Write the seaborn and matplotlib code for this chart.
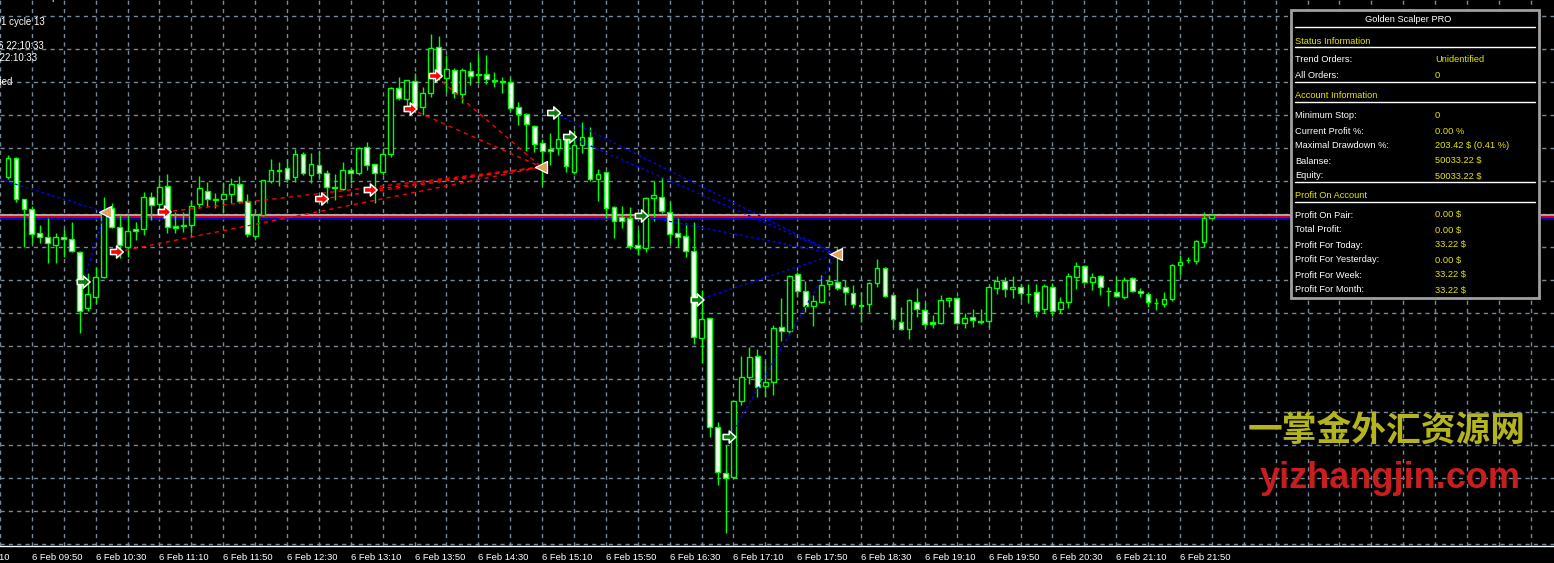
import numpy as np
import matplotlib.pyplot as plt
import matplotlib as mpl
import matplotlib.transforms as mtransforms
import pandas as pd
import seaborn as sns
from matplotlib.path import Path
from matplotlib.patches import Rectangle

# 5 minute bars, 6 Feb, 09:35 .. 22:10
bar_open = [
    1333.23, 1333.42, 1333.01, 1332.91, 1332.67, 1332.63, 1332.55, 1332.63, 1332.61, 1332.48,
    1331.92, 1332.03, 1332.23, 1332.92, 1332.73, 1332.53, 1332.71, 1332.71, 1333.03, 1332.96,
    1333.14, 1332.74, 1332.75, 1332.75, 1332.96, 1333.09, 1333.01, 1333.01, 1333.06, 1333.16,
    1332.99, 1332.64, 1332.85, 1333.19, 1333.30, 1333.32, 1333.23, 1333.46, 1333.25, 1333.35,
    1333.27, 1333.13, 1333.11, 1333.30, 1333.27, 1333.53, 1333.36, 1333.28, 1333.46, 1334.12,
    1334.01, 1334.19, 1333.93, 1334.07, 1334.53, 1334.22, 1334.30, 1334.06, 1334.29, 1334.26,
    1334.26, 1334.20, 1334.19, 1334.18, 1333.93, 1333.86, 1333.74, 1333.57, 1333.51, 1333.52,
    1333.62, 1333.28, 1333.55, 1333.63, 1333.21, 1333.28, 1332.93, 1332.83, 1332.82, 1332.55,
    1332.52, 1333.02, 1333.03, 1332.88, 1332.67, 1332.64, 1332.49, 1331.62, 1331.82, 1330.73,
    1330.27, 1330.23, 1330.99, 1331.23, 1331.44, 1331.14, 1331.18, 1331.73, 1331.69, 1332.26,
    1332.09, 1331.94, 1331.98, 1332.16, 1332.18, 1332.13, 1332.07, 1331.95, 1331.96, 1332.17,
    1332.32, 1332.05, 1331.78, 1331.71, 1331.98, 1331.90, 1331.78, 1331.77, 1332.00, 1332.02,
    1331.77, 1331.83, 1331.79, 1331.79, 1332.12, 1332.19, 1332.11, 1332.13, 1332.06, 1332.08,
    1331.91, 1332.13, 1331.91, 1331.98, 1332.23, 1332.34, 1332.18, 1332.24, 1332.09, 1332.08,
    1332.03, 1332.22, 1332.09, 1332.06, 1331.97, 1331.96, 1332.01, 1332.35, 1332.40, 1332.39,
    1332.58, 1332.82]
bar_high = [
    1333.45, 1333.43, 1333.01, 1332.94, 1332.75, 1332.82, 1332.67, 1332.71, 1332.78, 1332.49,
    1332.27, 1332.33, 1333.03, 1332.97, 1332.85, 1332.85, 1332.78, 1333.08, 1333.08, 1333.21,
    1333.26, 1332.88, 1332.88, 1333.00, 1333.24, 1333.18, 1333.07, 1333.18, 1333.22, 1333.24,
    1333.06, 1332.90, 1333.20, 1333.41, 1333.38, 1333.41, 1333.51, 1333.48, 1333.47, 1333.49,
    1333.30, 1333.26, 1333.38, 1333.32, 1333.53, 1333.58, 1333.36, 1333.52, 1334.13, 1334.23,
    1334.20, 1334.27, 1334.13, 1334.66, 1334.64, 1334.45, 1334.32, 1334.32, 1334.38, 1334.46,
    1334.45, 1334.28, 1334.23, 1334.22, 1333.98, 1333.87, 1333.75, 1333.61, 1333.67, 1333.90,
    1333.65, 1333.70, 1333.78, 1333.73, 1333.31, 1333.28, 1332.94, 1332.94, 1332.93, 1332.71,
    1333.03, 1333.19, 1333.23, 1332.98, 1332.82, 1332.77, 1332.78, 1332.10, 1331.82, 1330.78,
    1330.55, 1331.00, 1331.44, 1331.53, 1331.51, 1331.39, 1331.75, 1332.02, 1332.25, 1332.28,
    1332.19, 1332.05, 1332.25, 1332.25, 1332.52, 1332.20, 1332.15, 1332.08, 1332.18, 1332.41,
    1332.33, 1332.05, 1331.93, 1332.01, 1332.12, 1331.97, 1331.85, 1332.05, 1332.03, 1332.03,
    1331.87, 1331.91, 1331.91, 1332.14, 1332.24, 1332.23, 1332.24, 1332.16, 1332.16, 1332.16,
    1332.16, 1332.17, 1332.03, 1332.27, 1332.38, 1332.35, 1332.27, 1332.25, 1332.13, 1332.23,
    1332.23, 1332.23, 1332.12, 1332.07, 1332.02, 1332.08, 1332.36, 1332.45, 1332.43, 1332.60,
    1332.88, 1332.86]
bar_low = [
    1333.21, 1332.98, 1332.53, 1332.57, 1332.57, 1332.37, 1332.37, 1332.43, 1332.48, 1331.67,
    1331.89, 1331.97, 1332.22, 1332.72, 1332.42, 1332.43, 1332.60, 1332.65, 1332.80, 1332.90,
    1332.67, 1332.67, 1332.68, 1332.67, 1332.92, 1332.93, 1332.92, 1332.87, 1332.97, 1332.97,
    1332.63, 1332.60, 1332.84, 1333.17, 1333.14, 1333.18, 1333.18, 1333.25, 1333.17, 1333.22,
    1332.97, 1333.00, 1333.10, 1333.17, 1333.25, 1333.30, 1332.97, 1333.25, 1333.43, 1334.00,
    1333.92, 1333.90, 1333.85, 1334.03, 1334.20, 1334.08, 1334.02, 1333.97, 1334.15, 1334.17,
    1334.16, 1334.13, 1334.07, 1333.90, 1333.75, 1333.49, 1333.48, 1333.15, 1333.35, 1333.45,
    1333.28, 1333.26, 1333.47, 1333.19, 1332.99, 1332.82, 1332.62, 1332.72, 1332.51, 1332.45,
    1332.48, 1332.79, 1332.87, 1332.57, 1332.53, 1332.43, 1331.56, 1331.37, 1330.63, 1330.15,
    1329.67, 1330.22, 1330.95, 1331.16, 1331.03, 1331.03, 1331.05, 1331.59, 1331.67, 1332.03,
    1331.88, 1331.74, 1331.97, 1332.10, 1332.10, 1331.95, 1331.92, 1331.78, 1331.88, 1332.13,
    1332.03, 1331.73, 1331.70, 1331.61, 1331.83, 1331.72, 1331.72, 1331.76, 1331.93, 1331.76,
    1331.72, 1331.73, 1331.76, 1331.73, 1332.06, 1332.03, 1332.02, 1332.00, 1331.97, 1331.83,
    1331.87, 1331.84, 1331.87, 1331.92, 1332.11, 1332.17, 1332.10, 1332.05, 1331.94, 1332.03,
    1332.01, 1332.08, 1332.03, 1331.93, 1331.90, 1331.93, 1331.99, 1332.25, 1332.37, 1332.36,
    1332.53, 1332.81]
bar_close = [
    1333.42, 1333.01, 1332.91, 1332.66, 1332.63, 1332.57, 1332.63, 1332.61, 1332.49, 1331.89,
    1332.06, 1332.23, 1332.88, 1332.73, 1332.55, 1332.69, 1332.69, 1333.03, 1332.95, 1333.13,
    1332.73, 1332.72, 1332.74, 1332.94, 1333.12, 1333.01, 1333.00, 1333.06, 1333.16, 1332.99,
    1332.66, 1332.85, 1333.20, 1333.30, 1333.29, 1333.21, 1333.46, 1333.27, 1333.36, 1333.27,
    1333.13, 1333.12, 1333.30, 1333.27, 1333.52, 1333.35, 1333.27, 1333.46, 1334.12, 1334.02,
    1334.20, 1333.93, 1334.07, 1334.52, 1334.23, 1334.31, 1334.07, 1334.30, 1334.24, 1334.25,
    1334.21, 1334.19, 1334.18, 1333.92, 1333.86, 1333.76, 1333.56, 1333.49, 1333.49, 1333.61,
    1333.34, 1333.55, 1333.63, 1333.21, 1333.26, 1332.92, 1332.79, 1332.79, 1332.54, 1332.52,
    1333.02, 1333.05, 1332.89, 1332.66, 1332.63, 1332.49, 1331.63, 1331.81, 1330.73, 1330.28,
    1330.22, 1330.99, 1331.23, 1331.43, 1331.13, 1331.18, 1331.72, 1331.69, 1332.24, 1332.09,
    1331.94, 1331.99, 1332.15, 1332.19, 1332.12, 1332.08, 1331.96, 1331.94, 1332.17, 1332.32,
    1332.04, 1331.81, 1331.71, 1332.00, 1331.91, 1331.76, 1331.76, 1332.00, 1332.02, 1331.77,
    1331.82, 1331.80, 1331.78, 1332.13, 1332.19, 1332.11, 1332.13, 1332.07, 1332.06, 1331.89,
    1332.14, 1331.89, 1331.98, 1332.24, 1332.34, 1332.18, 1332.23, 1332.13, 1332.09, 1332.04,
    1332.20, 1332.09, 1332.07, 1331.98, 1331.97, 1332.01, 1332.35, 1332.38, 1332.40, 1332.59,
    1332.82, 1332.85]

time_labels = ["6 Feb 09:50", "6 Feb 10:30", "6 Feb 11:10", "6 Feb 11:50", "6 Feb 12:30",
               "6 Feb 13:10", "6 Feb 13:50", "6 Feb 14:30", "6 Feb 15:10", "6 Feb 15:50",
               "6 Feb 16:30", "6 Feb 17:10", "6 Feb 17:50", "6 Feb 18:30", "6 Feb 19:10",
               "6 Feb 19:50", "6 Feb 20:30", "6 Feb 21:10", "6 Feb 21:50"]

# trade arrows (bar position, price) and the close marks they link to
buy_pos = [-10.0, 9.5, 68.5, 70.5, 79.5, 86.5, 90.5]
buy_price = [1333.43, 1332.18, 1333.87, 1333.63, 1332.84, 1332.00, 1330.63]
buy_exit = [0, 0, 2, 2, 2, 2, 2]
sell_pos = [13.66, 19.66, 39.4, 45.5, 50.5, 53.66]
sell_price = [1332.48, 1332.88, 1333.01, 1333.10, 1333.91, 1334.24]
sell_exit = [1, 1, 1, 1, 1, 1]
exit_pos = [12.16, 66.9, 103.9]
exit_price = [1332.88, 1333.33, 1332.46]

bid_level = 1332.85
order_levels = [1332.83, 1332.81]

panel_rows = [
    ("Trend Orders:", "Unidentified"), ("All Orders:", "0"),
    ("Minimum Stop:", "0"), ("Current Profit %:", "0.00 %"),
    ("Maximal Drawdown %:", "203.42 $ (0.41 %)"), ("Balanse:", "50033.22 $"),
    ("Equity:", "50033.22 $"), ("Profit On Pair:", "0.00 $"), ("Total Profit:", "0.00 $"),
    ("Profit For Today:", "33.22 $"), ("Profit For Yesterday:", "0.00 $"),
    ("Profit For Week:", "33.22 $"), ("Profit For Month:", "33.22 $")]
panel_sections = ["Status Information", "Account Information", "Profit On Account"]

# styling
sns.set_style('dark', rc={'axes.facecolor': 'black', 'figure.facecolor': 'black',
                          'axes.edgecolor': 'white', 'grid.color': '#778899'})
plt.rcParams['font.family'] = ['Liberation Sans', 'DejaVu Sans']
LIME = '#00ff00'
W, H = 1554, 563

df = pd.DataFrame({'open': bar_open, 'high': bar_high, 'low': bar_low, 'close': bar_close})
df['pos'] = np.arange(len(df))
df['bull'] = df['close'] > df['open']

fig = plt.figure(figsize=(W / 100, H / 100), dpi=100)
ax = fig.add_axes([0, 17 / H, 1, 546 / H])
x0 = -0.3375
ax.set_xlim(x0, x0 + W / 8)
ax.set_ylim(1335.00 - 5.46, 1335.00)

# grid
ax.set_yticks(1335.00 - (16 + 33 * np.arange(17)) / 100)
ax.set_xticks(np.arange(3, 148, 8))
ax.set_xticks(np.arange(-1, 195, 4), minor=True)
ax.grid(True, which='both', axis='both', color='#778899', linestyle=(0, (3, 3)), linewidth=1)
ax.set_axisbelow(True)
ax.set_xticklabels(time_labels, ha='left', color='white', fontsize=6.8)
shift = mtransforms.ScaledTranslation(-3 / 100, 0, fig.dpi_scale_trans)
for lab in ax.get_xticklabels():
    lab.set_transform(lab.get_transform() + shift)
ax.tick_params(axis='x', which='major', colors='white', length=3, width=1, pad=2, labelcolor='white')
ax.tick_params(axis='x', which='minor', colors='white', length=3, direction='in')
ax.tick_params(axis='y', left=False, labelleft=False)
for s in ['top', 'left', 'right']:
    ax.spines[s].set_visible(False)
ax.spines['bottom'].set_color('white')
ax.spines['bottom'].set_linewidth(1)
ax.annotate("6 Feb 09:10", xy=(-5, 0), xycoords=('data', 'axes fraction'), xytext=(-6.5, -5),
            textcoords='offset points', ha='left', va='top', color='white', fontsize=6.8,
            annotation_clip=False)

# horizontal levels
ax.axhline(bid_level, color='#a9a9a9', lw=1.4, zorder=2)
ax.axhline(order_levels[0], color='#ff0000', lw=1.2, zorder=2)
ax.axhline(order_levels[1], color='#0000ff', lw=1.2, zorder=2)

# candles
ax.vlines(df['pos'], df['low'], df['high'], color=LIME, lw=1, zorder=3)
body_lo = df[['open', 'close']].min(axis=1)
body_h = (df['close'] - df['open']).abs()
fills = np.where(df['bull'], 'black', 'white')
ax.bar(df['pos'], body_h, bottom=body_lo, width=0.6, color=fills, edgecolor=LIME,
       linewidth=1, zorder=4)

# trade lines
for p, v, e in zip(buy_pos, buy_price, buy_exit):
    ax.plot([p, exit_pos[e]], [v, exit_price[e]], color='#0000ff', lw=1,
            linestyle=(0, (2, 2)), zorder=5)
for p, v, e in zip(sell_pos, sell_price, sell_exit):
    ax.plot([p, exit_pos[e]], [v, exit_price[e]], color='#ff0000', lw=1,
            linestyle=(0, (3, 3)), zorder=5)

arrow = Path([(-1, -0.4), (-0.05, -0.4), (-0.05, -0.95), (1, 0), (-0.05, 0.95),
              (-0.05, 0.4), (-1, 0.4), (-1, -0.4)],
             [Path.MOVETO] + [Path.LINETO] * 6 + [Path.CLOSEPOLY])
markers = pd.DataFrame({'pos': buy_pos + sell_pos,
                        'price': buy_price + sell_price,
                        'side': ['buy'] * len(buy_pos) + ['sell'] * len(sell_pos)})
sns.scatterplot(data=markers, x='pos', y='price', hue='side', palette={'buy': '#0a7a0a', 'sell': '#ff0000'},
                marker=arrow, s=85, edgecolor='white', linewidth=1.1, legend=False, ax=ax, zorder=6)
sns.scatterplot(x=exit_pos, y=exit_price, marker='<', s=75, color='#e0a060', edgecolor='white',
                linewidth=0.9, legend=False, ax=ax, zorder=6)
ax.set_xlabel('')
ax.set_ylabel('')

# overlay in pixel units for the panel and the comment text
ov = fig.add_axes([0, 0, 1, 1])
ov.set_xlim(0, W)
ov.set_ylim(H, 0)
ov.axis('off')
ov.patch.set_alpha(0)

for txt, xr, yc in [("Golden Scalper PRO 2018.02.06 22:10:33 :: Expert Advisor", 104, -3),
                    ("Copyright 2018 Golden Scalper PRO v.1.01 cycle 13", 45, 22),
                    ("Server time: 2018.02.06 22:10:33", 44, 46),
                    ("Local time: 22:10:33", 37, 58),
                    ("Trend: Unidentified", 12, 82)]:
    ov.text(xr, yc, txt, ha='right', va='center', color='white', fontsize=7)

ov.add_patch(Rectangle((1291, 10), 248, 288, facecolor='black', edgecolor='#a0a0a0', lw=2, zorder=5))
ov.text(1408, 19, "Golden Scalper PRO", ha='center', va='center', color='white', fontsize=6.7, zorder=6)
for yl in [27, 47, 82, 102, 182, 202]:
    ov.plot([1295, 1535], [yl, yl], color='white', lw=1, zorder=6)
for name, yc in zip(panel_sections, [41, 96, 196]):
    ov.text(1295, yc, name, ha='left', va='center', color='#e6e600', fontsize=6.7, zorder=6)
row_y = [60, 75, 116, 131, 146, 161, 176, 215, 230, 245, 260, 275, 290]
for (lab, val), yc in zip(panel_rows, row_y):
    ov.text(1295, yc, lab, ha='left', va='center', color='white', fontsize=6.7, zorder=6)
    ov.text(1435, yc, val, ha='left', va='center', color='#e6e600', fontsize=6.7, zorder=6)

ov.text(1387, 430, "一掌金外汇资源网", ha='center', va='center', color='#b4b41e', fontsize=25,
        fontweight='bold', family=['Noto Sans CJK SC', 'DejaVu Sans'])
ov.text(1390, 478, "yizhangjin.com", ha='center', va='center', color='#c81e1e', fontsize=26,
        fontweight='bold')

fig.savefig('out.png', dpi=100, facecolor='black')
